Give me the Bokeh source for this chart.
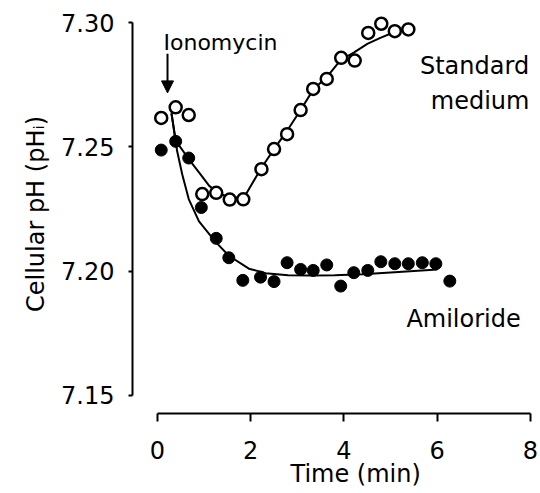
from bokeh.plotting import figure
from bokeh.models import FixedTicker, Label, Arrow, NormalHead, ColumnDataSource, Title
from bokeh.embed import file_html
from bokeh.resources import INLINE

# ---- data ----
std_t = [0.08, 0.39, 0.67, 0.96, 1.26, 1.55, 1.84, 2.23, 2.50, 2.78, 3.07, 3.34, 3.63,
         3.94, 4.23, 4.52, 4.80, 5.09, 5.38]
std_ph = [7.2616, 7.2659, 7.2628, 7.2310, 7.2315, 7.2288, 7.2289, 7.2410, 7.2491, 7.2551,
          7.2648, 7.2733, 7.2773, 7.2858, 7.2847, 7.2958, 7.2995, 7.2965, 7.2972]

ami_t = [0.08, 0.39, 0.67, 0.94, 1.26, 1.53, 1.83, 2.21, 2.50, 2.78, 3.07, 3.34, 3.63,
         3.93, 4.21, 4.51, 4.79, 5.09, 5.38, 5.68, 5.97, 6.27]
ami_ph = [7.2487, 7.2522, 7.2455, 7.2256, 7.2132, 7.2054, 7.1963, 7.1976, 7.1958, 7.2034,
          7.2007, 7.2003, 7.2025, 7.1940, 7.1994, 7.2003, 7.2038, 7.2030, 7.2030, 7.2034,
          7.2030, 7.1960]

std_fit_t = [0.30, 0.39, 0.67, 0.89, 1.11, 1.30, 1.53, 1.85, 2.21, 2.50, 2.78, 3.07, 3.35,
             3.64, 3.93, 4.21, 4.50, 4.78, 5.07, 5.36]
std_fit_ph = [7.2635, 7.2525, 7.2451, 7.2397, 7.2343, 7.2316, 7.2297, 7.2294, 7.2410, 7.2491,
              7.2565, 7.2648, 7.2733, 7.2782, 7.2850, 7.2879, 7.2914, 7.2938, 7.2961, 7.2975]

ami_fit_t = [0.30, 0.42, 0.53, 0.67, 0.89, 1.245, 1.53, 1.96, 2.32, 2.80, 3.30, 3.80, 4.40,
             5.00, 5.50, 6.00]
ami_fit_ph = [7.2635, 7.2484, 7.2390, 7.2290, 7.2200, 7.2118, 7.2062, 7.2010, 7.1992, 7.1984,
              7.1983, 7.1984, 7.1988, 7.1995, 7.2001, 7.2007]

x_ticks = [0, 2, 4, 6, 8]
x_tick_labels = ["0", "2", "4", "6", "8"]
y_ticks = [7.15, 7.20, 7.25, 7.30]
y_tick_labels = ["7.15", "7.20", "7.25", "7.30"]
x_title = "Time (min)"
y_title = "Cellular pH (pH\u1d62)"

FONT = "DejaVu Sans"

p = figure(width=538, height=493, x_range=(-0.536, 8.129), y_range=(7.14276, 7.30322),
           output_backend="svg", toolbar_location=None,
           min_border_left=132, min_border_right=2, min_border_top=14, min_border_bottom=80)
p.grid.visible = False
p.outline_line_color = None
p.background_fill_color = "white"

# axes
xa = p.xaxis[0]
xa.ticker = FixedTicker(ticks=x_ticks)
xa.major_label_overrides = {t: l for t, l in zip(x_ticks, x_tick_labels)}
xa.bounds = (0, 8)
ya = p.yaxis[0]
ya.ticker = FixedTicker(ticks=y_ticks)
ya.major_label_overrides = {t: l for t, l in zip(y_ticks, y_tick_labels)}
ya.bounds = (7.15, 7.30)
for ax in (xa, ya):
    ax.axis_line_width = 2
    ax.axis_line_color = "black"
    ax.major_tick_line_width = 2
    ax.major_tick_line_color = "black"
    ax.minor_tick_line_color = None
    ax.major_tick_in = 0
    ax.major_label_text_font = FONT
    ax.major_label_text_font_size = "24px"
    ax.major_label_text_color = "black"
xa.major_tick_out = 8
xa.major_label_standoff = 19
ya.major_tick_out = 4
ya.major_label_standoff = 14
ya.axis_label = y_title
ya.axis_label_text_font = FONT
ya.axis_label_text_font_size = "24px"
ya.axis_label_text_font_style = "normal"
ya.axis_label_text_color = "black"
ya.axis_label_standoff = 8

# x-axis title, placed under the 0..8 axis span
p.add_layout(Title(text=x_title, align="left", offset=158, standoff=-8,
                   text_font=FONT, text_font_size="24px", text_font_style="normal",
                   text_color="black"), "below")

# fitted curves
p.line(std_fit_t, std_fit_ph, line_color="black", line_width=2)
p.line(ami_fit_t, ami_fit_ph, line_color="black", line_width=2)

# data points
p.scatter(x="t", y="ph", source=ColumnDataSource(dict(t=ami_t, ph=ami_ph)),
          size=12, fill_color="black", line_color="black")
p.scatter(x="t", y="ph", source=ColumnDataSource(dict(t=std_t, ph=std_ph)),
          size=12, fill_color="white", line_color="black", line_width=2.5)

# annotations
p.add_layout(Arrow(end=NormalHead(size=12, fill_color="black", line_color="black", line_width=1),
                   x_start=0.215, y_start=7.2874, x_end=0.215, y_end=7.2717,
                   line_width=2, line_color="black"))
p.add_layout(Label(x=0.129, y=7.2918, text="Ionomycin", text_font=FONT, text_font_size="22px",
                   text_baseline="alphabetic", text_align="left", text_color="black"))
p.add_layout(Label(x=6.80, y=7.2826, text="Standard", text_font=FONT, text_font_size="24px",
                   text_baseline="alphabetic", text_align="center", text_color="black"))
p.add_layout(Label(x=6.92, y=7.2685, text="medium", text_font=FONT, text_font_size="24px",
                   text_baseline="alphabetic", text_align="center", text_color="black"))
p.add_layout(Label(x=6.565, y=7.1808, text="Amiloride", text_font=FONT, text_font_size="24px",
                   text_baseline="alphabetic", text_align="center", text_color="black"))

open("out.html", "w").write(file_html(p, INLINE))
